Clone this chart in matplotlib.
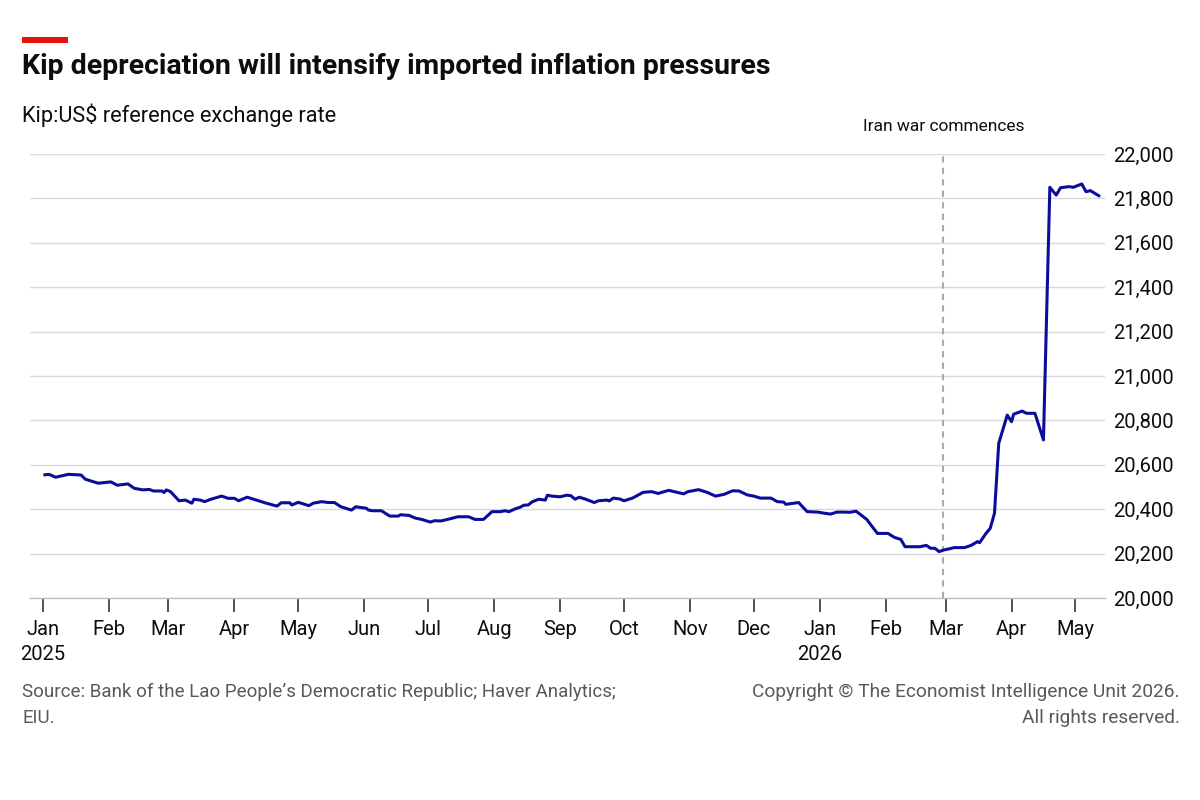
import matplotlib
matplotlib.use("Agg")
import matplotlib.pyplot as plt
import matplotlib.ticker as mticker
import pandas as pd

plt.rcParams['font.family'] = ['Roboto', 'DejaVu Sans']

# Kip:US$ reference rate
dates = [
    "2025-01-02", "2025-01-04", "2025-01-07", "2025-01-13", "2025-01-19", "2025-01-21",
    "2025-01-27", "2025-02-02", "2025-02-05", "2025-02-10", "2025-02-13", "2025-02-17",
    "2025-02-20", "2025-02-22", "2025-02-26", "2025-02-27", "2025-02-28", "2025-03-02",
    "2025-03-06", "2025-03-09", "2025-03-12", "2025-03-13", "2025-03-16", "2025-03-18",
    "2025-03-21", "2025-03-26", "2025-03-29", "2025-04-01", "2025-04-03", "2025-04-07",
    "2025-04-10", "2025-04-16", "2025-04-21", "2025-04-23", "2025-04-27", "2025-04-28",
    "2025-05-01", "2025-05-06", "2025-05-08", "2025-05-12", "2025-05-15", "2025-05-18",
    "2025-05-21", "2025-05-26", "2025-05-28", "2025-06-02", "2025-06-03", "2025-06-05",
    "2025-06-09", "2025-06-13", "2025-06-17", "2025-06-18", "2025-06-22", "2025-06-25",
    "2025-06-28", "2025-07-02", "2025-07-04", "2025-07-07", "2025-07-11", "2025-07-15",
    "2025-07-20", "2025-07-23", "2025-07-27", "2025-07-31", "2025-08-04", "2025-08-06",
    "2025-08-08", "2025-08-11", "2025-08-13", "2025-08-15", "2025-08-17", "2025-08-19",
    "2025-08-22", "2025-08-25", "2025-08-26", "2025-08-28", "2025-09-01", "2025-09-04",
    "2025-09-06", "2025-09-08", "2025-09-10", "2025-09-13", "2025-09-17", "2025-09-19",
    "2025-09-23", "2025-09-24", "2025-09-26", "2025-09-29", "2025-10-01", "2025-10-05",
    "2025-10-10", "2025-10-14", "2025-10-17", "2025-10-22", "2025-10-26", "2025-10-29",
    "2025-10-31", "2025-11-05", "2025-11-09", "2025-11-13", "2025-11-17", "2025-11-21",
    "2025-11-24", "2025-11-28", "2025-12-01", "2025-12-04", "2025-12-09", "2025-12-12",
    "2025-12-15", "2025-12-16", "2025-12-22", "2025-12-26", "2025-12-31", "2026-01-03",
    "2026-01-06", "2026-01-09", "2026-01-12", "2026-01-15", "2026-01-18", "2026-01-23",
    "2026-01-28", "2026-02-02", "2026-02-05", "2026-02-08", "2026-02-10", "2026-02-17",
    "2026-02-20", "2026-02-22", "2026-02-24", "2026-02-26", "2026-02-28", "2026-03-03",
    "2026-03-05", "2026-03-10", "2026-03-13", "2026-03-16", "2026-03-17", "2026-03-20",
    "2026-03-22", "2026-03-24", "2026-03-26", "2026-03-30", "2026-04-01", "2026-04-02",
    "2026-04-06", "2026-04-08", "2026-04-12", "2026-04-16", "2026-04-19", "2026-04-22",
    "2026-04-24", "2026-04-28", "2026-04-30", "2026-05-04", "2026-05-06", "2026-05-08",
    "2026-05-12",
]
rate = [
    20555, 20557, 20544, 20557, 20554, 20535,
    20517, 20523, 20508, 20514, 20494, 20487,
    20489, 20482, 20482, 20475, 20487, 20479,
    20438, 20441, 20427, 20445, 20441, 20434,
    20445, 20459, 20449, 20449, 20438, 20454,
    20445, 20427, 20414, 20429, 20429, 20419,
    20431, 20416, 20427, 20434, 20430, 20430,
    20411, 20396, 20411, 20404, 20396, 20393,
    20393, 20369, 20369, 20375, 20372, 20360,
    20354, 20342, 20348, 20347, 20356, 20366,
    20366, 20354, 20354, 20389, 20389, 20393,
    20389, 20402, 20408, 20418, 20419, 20434,
    20445, 20441, 20463, 20459, 20456, 20463,
    20461, 20445, 20454, 20445, 20430, 20438,
    20441, 20437, 20450, 20446, 20438, 20450,
    20476, 20479, 20471, 20485, 20476, 20469,
    20479, 20488, 20476, 20459, 20467, 20483,
    20482, 20464, 20459, 20450, 20450, 20434,
    20432, 20422, 20430, 20389, 20387, 20382,
    20378, 20387, 20387, 20386, 20391, 20354,
    20291, 20291, 20273, 20264, 20231, 20231,
    20237, 20224, 20224, 20209, 20216, 20222,
    20227, 20227, 20237, 20254, 20249, 20291,
    20314, 20382, 20697, 20824, 20794, 20828,
    20842, 20832, 20832, 20712, 21850, 21815,
    21848, 21853, 21850, 21865, 21830, 21835,
    21812,
]

event_date = "2026-02-28"
event_label = "Iran war commences"
y_ticks = [20000, 20200, 20400, 20600, 20800, 21000, 21200, 21400, 21600, 21800, 22000]

title = "Kip depreciation will intensify imported inflation pressures"
subtitle = "Kip:US$ reference exchange rate"
source = "Source: Bank of the Lao People\u2019s Democratic Republic; Haver Analytics;\nEIU."
copyright_txt = "Copyright \u00a9 The Economist Intelligence Unit 2026.\nAll rights reserved."

LINE = "#0c0c9c"
GRID = "#d9d9d9"
TXT = "#0d0d0d"
GREY = "#595959"

x = pd.to_datetime(dates)

fig = plt.figure(figsize=(12, 8), dpi=100)
ax = fig.add_axes([0.025, 0.2525, 0.896, 0.555])

ax.plot(x, rate, color=LINE, lw=2.2, solid_joinstyle='round', zorder=3)
ax.axvline(pd.Timestamp(event_date), color="#aaaaaa", lw=1.5, ls=(0, (3, 2.5)), zorder=2)
ax.text(pd.Timestamp(event_date), 22090, event_label, ha='center', va='bottom',
        fontsize=12.5, color=TXT)

ax.set_ylim(20000, 22000)
ax.set_xlim(pd.Timestamp("2024-12-26"), pd.Timestamp("2026-05-15"))
ax.set_yticks(y_ticks)
ax.yaxis.set_major_formatter(mticker.StrMethodFormatter("{x:,.0f}"))
ax.yaxis.tick_right()
ax.tick_params(axis='y', length=0, pad=6, labelsize=14.5, labelcolor=TXT)
ax.grid(axis='y', color=GRID, lw=1)
ax.set_axisbelow(True)

months = pd.date_range("2025-01-01", "2026-05-01", freq="MS")
ax.set_xticks(months)
ax.set_xticklabels([m.strftime("%b") + ("\n" + str(m.year) if m.month == 1 else "") for m in months])
ax.tick_params(axis='x', length=10, width=1.2, color="#333333", pad=6,
               labelsize=14.5, labelcolor=TXT)
for lab in ax.get_xticklabels():
    lab.set_verticalalignment('top')
    lab.set_linespacing(1.4)

for s in ['top', 'left', 'right']:
    ax.spines[s].set_visible(False)
ax.spines['bottom'].set_color("#bfbfbf")
ax.spines['bottom'].set_linewidth(1)

# header
fig.add_artist(plt.Rectangle((22 / 1200, 1 - 43 / 800), 46 / 1200, 6 / 800,
                             transform=fig.transFigure, color="#e3120b", lw=0))
fig.text(22 / 1200, 1 - 67 / 800, title, fontsize=20.5, fontweight='bold', color=TXT,
         va='center', ha='left')
fig.text(22 / 1200, 1 - 115 / 800, subtitle, fontsize=15.7, color=TXT, va='center', ha='left')

# footer
fig.text(22 / 1200, 1 - 683 / 800, source, fontsize=13.5, color=GREY, va='top', ha='left',
         linespacing=1.55)
fig.text(1180 / 1200, 1 - 683 / 800, copyright_txt, fontsize=13.8, color=GREY, va='top',
         ha='right', multialignment='right', linespacing=1.55)

fig.savefig("out.png", dpi=100, facecolor="white")
